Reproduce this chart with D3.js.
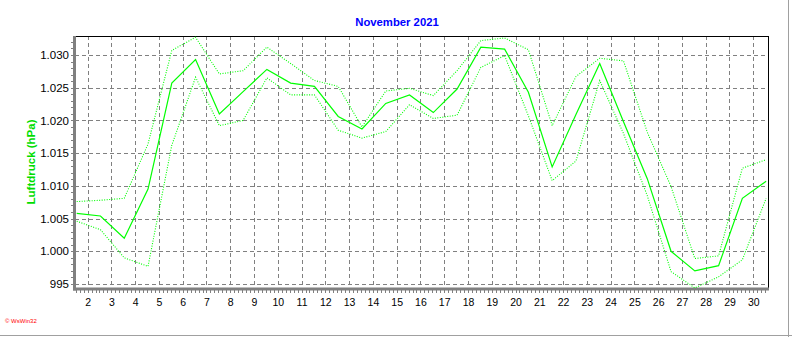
<!DOCTYPE html>
<html>
<head>
<meta charset="utf-8">
<script src="https://cdn.jsdelivr.net/npm/d3@7"></script>
<style>
  html, body { margin: 0; padding: 0; background: #fff; }
  svg { display: block; }
</style>
</head>
<body>
<svg id="chart" width="792" height="337"></svg>
<script>
// ---- data ----
const days = [1,2,3,4,5,6,7,8,9,10,11,12,13,14,15,16,17,18,19,20,21,22,23,24,25,26,27,28,29,30];
const meanP = [1005.8,1005.4,1002.0,1009.5,1025.7,1029.3,1021.0,1024.4,1027.8,1025.7,1025.2,1020.6,1018.7,1022.6,1023.9,1021.2,1024.8,1031.2,1030.9,1024.3,1012.9,1020.9,1028.7,1019.8,1011.1,1000.0,997.0,997.8,1008.1,1010.7];
const maxP  = [1007.6,1007.8,1008.1,1016.4,1030.7,1032.7,1027.1,1027.6,1031.2,1028.7,1026.1,1025.2,1019.0,1024.5,1024.9,1023.8,1027.6,1032.2,1032.6,1030.8,1019.2,1026.7,1029.5,1029.1,1018.2,1009.9,998.9,999.3,1012.7,1014.0];
const minP  = [1004.6,1003.3,999.0,997.7,1016.2,1026.6,1019.2,1020.0,1026.5,1023.9,1023.9,1018.5,1017.3,1018.3,1022.4,1020.3,1020.8,1028.1,1029.9,1020.7,1010.8,1013.8,1026.1,1018.0,1008.5,996.9,994.4,996.1,998.7,1008.1];
const yTicks = [995,1000,1005,1010,1015,1020,1025,1030];
const yTickLabels = ["995","1.000","1.005","1.010","1.015","1.020","1.025","1.030"];
const xTicks = [2,3,4,5,6,7,8,9,10,11,12,13,14,15,16,17,18,19,20,21,22,23,24,25,26,27,28,29,30];
const titleText = "November 2021";
const yTitle = "Luftdruck (hPa)";
const credit = "\u00a9 WsWin32";
const sampleHour = 13; // values plotted at 13:00 of each day

// ---- layout ----
const L = 75, R = 768, T = 36, B = 289;
const svg = d3.select("#chart");
const x = d3.scaleLinear().domain([1.47, 30.62]).range([L, R]);
const y = d3.scaleLinear().domain([994.24, 1032.9]).range([B, T]);
const px = d => x(d + sampleHour / 24);

svg.append("rect").attr("width", 792).attr("height", 337).attr("fill", "#fff");

// outer frame (right & bottom)
svg.append("line").attr("x1", 788.5).attr("x2", 788.5).attr("y1", 0).attr("y2", 337).attr("stroke", "#a0a0a0");
svg.append("line").attr("x1", 0).attr("x2", 792).attr("y1", 335.5).attr("y2", 335.5).attr("stroke", "#a0a0a0");

// title
svg.append("text").attr("x", 397).attr("y", 26).attr("text-anchor", "middle")
  .attr("font-family", "Liberation Sans, Arial, sans-serif").attr("font-weight", "bold")
  .attr("font-size", "11.3px").attr("fill", "#0000ff").text(titleText);

// grid
const grid = svg.append("g").attr("stroke", "#808080").attr("stroke-dasharray", "4,3").attr("stroke-width", 1)
  .attr("shape-rendering", "crispEdges");
grid.selectAll("line.h").data(yTicks).join("line")
  .attr("x1", L).attr("x2", R).attr("y1", d => Math.round(y(d)) + 0.5).attr("y2", d => Math.round(y(d)) + 0.5);
grid.selectAll("line.v").data(xTicks).join("line")
  .attr("y1", T).attr("y2", B).attr("x1", d => Math.round(x(d)) + 0.5).attr("x2", d => Math.round(x(d)) + 0.5);

// frame top/right black
svg.append("line").attr("x1", L).attr("x2", R + 0.5).attr("y1", T + 0.5).attr("y2", T + 0.5).attr("stroke", "#000");
svg.append("line").attr("x1", R + 0.5).attr("x2", R + 0.5).attr("y1", T).attr("y2", B).attr("stroke", "#000");

// axes (gray, thick)
const yAxis = d3.axisLeft(y).tickValues(yTicks).tickFormat((d, i) => yTickLabels[i]).tickSize(0).tickPadding(6);
const gy = svg.append("g").attr("transform", `translate(${L},0)`).call(yAxis);
gy.select(".domain").remove();
gy.selectAll("text").attr("font-family", "Liberation Sans, Arial, sans-serif").attr("font-size", "11.5px").attr("fill", "#000");

const xAxis = d3.axisBottom(x).tickValues(xTicks).tickFormat(d3.format("d")).tickSize(0).tickPadding(10);
const gx = svg.append("g").attr("transform", `translate(0,${B})`).call(xAxis);
gx.select(".domain").remove();
gx.selectAll("text").attr("font-family", "Liberation Sans, Arial, sans-serif").attr("font-size", "10.5px").attr("fill", "#000");

// minor ticks
const yMinor = d3.range(995, 1033, 1);
svg.append("g").attr("shape-rendering", "crispEdges").selectAll("line").data(yMinor).join("line")
  .attr("x1", L - 4).attr("x2", L).attr("y1", d => Math.round(y(d)) + 0.5).attr("y2", d => Math.round(y(d)) + 0.5)
  .attr("stroke", "#808080");
const xMinor = d3.range(1.5, 30.6, 1 / 6);
svg.append("g").attr("shape-rendering", "crispEdges").selectAll("line").data(xMinor).join("line")
  .attr("x1", d => Math.round(x(d)) + 0.5).attr("x2", d => Math.round(x(d)) + 0.5).attr("y1", B).attr("y2", B + 4)
  .attr("stroke", "#808080");

svg.append("line").attr("x1", L - 0.5).attr("x2", L - 0.5).attr("y1", T).attr("y2", B + 1.5).attr("stroke", "#808080").attr("stroke-width", 3);
svg.append("line").attr("x1", L - 2).attr("x2", R + 1).attr("y1", B).attr("y2", B).attr("stroke", "#808080").attr("stroke-width", 3);

// y title
svg.append("text").attr("transform", "translate(35,162) rotate(-90)").attr("text-anchor", "middle")
  .attr("font-family", "Liberation Sans, Arial, sans-serif").attr("font-weight", "bold")
  .attr("font-size", "11.5px").attr("fill", "#00dd00").text(yTitle);

// credit
svg.append("text").attr("x", 5).attr("y", 323)
  .attr("font-family", "Liberation Sans, Arial, sans-serif").attr("font-size", "6px").attr("fill", "#ff0000").text(credit);

// lines
svg.append("clipPath").attr("id", "plotclip").append("rect").attr("x", L).attr("y", T).attr("width", R - L).attr("height", B - T - 1);
const lineGen = arr => d3.line().x((d, i) => px(days[i])).y(d => y(d))(arr);
const lines = svg.append("g").attr("clip-path", "url(#plotclip)").attr("fill", "none");
lines.append("path").attr("d", lineGen(maxP)).attr("stroke", "#00ff00").attr("stroke-width", 1.1).attr("stroke-dasharray", "1,1.5");
lines.append("path").attr("d", lineGen(minP)).attr("stroke", "#00ff00").attr("stroke-width", 1.1).attr("stroke-dasharray", "1,1.5");
lines.append("path").attr("d", lineGen(meanP)).attr("stroke", "#00ff00").attr("stroke-width", 1.2);
</script>
</body>
</html>
